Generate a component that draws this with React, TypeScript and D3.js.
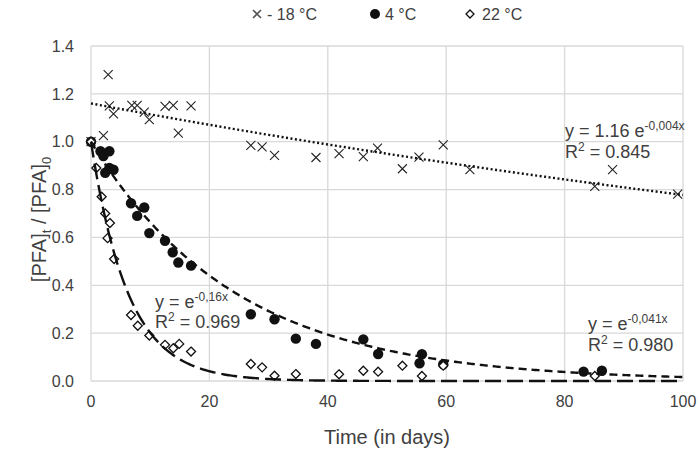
import React from "react";
import * as d3 from "d3";

const xTicks = [0, 20, 40, 60, 80, 100];
const yTicks = [0, 0.2, 0.4, 0.6, 0.8, 1.0, 1.2, 1.4];

const m18X = [0, 2.1, 2.9, 3.1, 3.8, 6.9, 7.8, 9.0, 9.85, 12.5, 13.9, 14.75, 16.9, 27.0, 28.9, 31.0, 38.0, 41.9, 46.0, 48.4, 52.6, 55.4, 59.5, 64.0, 85.1, 88.1, 99.1];
const m18Y = [1.0, 1.025, 1.28, 1.15, 1.116, 1.152, 1.152, 1.124, 1.092, 1.148, 1.152, 1.036, 1.15, 0.985, 0.978, 0.943, 0.934, 0.95, 0.938, 0.973, 0.887, 0.936, 0.987, 0.883, 0.813, 0.883, 0.781];

const p4X = [0, 1.6, 2.1, 3.1, 2.4, 3.1, 3.8, 6.76, 7.8, 9.0, 9.85, 12.5, 13.8, 14.75, 16.9, 27.0, 31.0, 34.6, 38.0, 46.0, 48.5, 55.5, 55.9, 59.5, 83.2, 86.3];
const p4Y = [1.0, 0.96, 0.94, 0.96, 0.87, 0.89, 0.883, 0.743, 0.69, 0.725, 0.618, 0.586, 0.538, 0.495, 0.482, 0.279, 0.258, 0.177, 0.155, 0.174, 0.113, 0.074, 0.112, 0.07, 0.039, 0.043];

const p22X = [0, 0.9, 1.8, 2.4, 3.2, 2.8, 3.9, 6.76, 7.9, 9.85, 12.5, 13.9, 14.9, 16.9, 27.0, 28.9, 31.0, 34.6, 41.9, 46.0, 48.5, 52.6, 55.9, 59.5, 85.1];
const p22Y = [1.0, 0.89, 0.77, 0.7, 0.66, 0.597, 0.51, 0.276, 0.231, 0.19, 0.151, 0.137, 0.155, 0.123, 0.071, 0.057, 0.022, 0.029, 0.028, 0.043, 0.039, 0.064, 0.021, 0.064, 0.021];

// trend-line parameters (from the chart's equations)
const fitM18 = { a: 1.16, k: 0.004 };
const fit4 = { a: 1, k: 0.041 };
const fit22 = { a: 1, k: 0.16 };

const W = 699;
const H = 452;
const left = 91, right = 683, top = 46, bottom = 381;
const TEXT = "#404040";
const FONT = "'Liberation Sans', Arial, sans-serif";

export default function App() {
  const x = d3.scaleLinear().domain([0, 100]).range([left, right]);
  const y = d3.scaleLinear().domain([0, 1.4]).range([bottom, top]);

  const fitPath = (f: { a: number; k: number }) => {
    const pts = d3.range(0, 100.01, 0.25).map((t) => [t, f.a * Math.exp(-f.k * t)] as [number, number]);
    return d3.line<[number, number]>().x((d) => x(d[0])).y((d) => y(d[1]))(pts) || "";
  };

  const cross = (cx: number, cy: number, s = 4.5) =>
    `M${cx - s},${cy - s}L${cx + s},${cy + s}M${cx - s},${cy + s}L${cx + s},${cy - s}`;
  const diamond = (cx: number, cy: number, s = 4.5) =>
    `M${cx},${cy - s}L${cx + s},${cy}L${cx},${cy + s}L${cx - s},${cy}Z`;

  return (
    <svg width={W} height={H} style={{ position: "absolute", left: 0, top: 0, background: "#fff" }} fontFamily={FONT}>
      <rect x={0} y={0} width={W} height={H} fill="#fff" />
      {/* grid */}
      {xTicks.map((t) => (
        <line key={"gx" + t} x1={x(t)} x2={x(t)} y1={top} y2={bottom} stroke="#d9d9d9" strokeWidth={1.3} />
      ))}
      {yTicks.map((t) => (
        <line key={"gy" + t} x1={left} x2={right} y1={y(t)} y2={y(t)} stroke="#d9d9d9" strokeWidth={1.3} />
      ))}
      {/* tick labels */}
      {yTicks.map((t) => (
        <text key={"ly" + t} x={74} y={y(t)} dy="0.36em" textAnchor="end" fontSize={16} fill={TEXT}>
          {t.toFixed(1)}
        </text>
      ))}
      {xTicks.map((t) => (
        <text key={"lx" + t} x={x(t)} y={407} textAnchor="middle" fontSize={16} fill={TEXT}>
          {t}
        </text>
      ))}
      {/* axis titles */}
      <text x={387} y={444} textAnchor="middle" fontSize={20} fill={TEXT}>
        Time (in days)
      </text>
      <text transform={`translate(46,${(top + bottom) / 2 + 6}) rotate(-90)`} textAnchor="middle" fontSize={20} fill={TEXT}>
        [PFA]<tspan fontSize={13} dy={5}>t</tspan>
        <tspan dy={-5}> / [PFA]</tspan>
        <tspan fontSize={13} dy={5}>0</tspan>
      </text>

      {/* markers */}
      {m18X.map((v, i) => (
        <path key={"m18" + i} d={cross(x(v), y(m18Y[i]))} stroke="#222" strokeWidth={1.1} fill="none" />
      ))}
      {p4X.map((v, i) => (
        <circle key={"p4" + i} cx={x(v)} cy={y(p4Y[i])} r={5.2} fill="#111" />
      ))}
      {p22X.map((v, i) => (
        <path key={"p22" + i} d={diamond(x(v), y(p22Y[i]))} stroke="#111" strokeWidth={1.3} fill="#fff" />
      ))}

      {/* trend lines */}
      <path d={fitPath(fitM18)} fill="none" stroke="#111" strokeWidth={2.4} strokeDasharray="2 2.5" />
      <path d={fitPath(fit4)} fill="none" stroke="#111" strokeWidth={2.4} strokeDasharray="8 5" />
      <path d={fitPath(fit22)} fill="none" stroke="#111" strokeWidth={2.4} strokeDasharray="16 6" />

      {/* equations */}
      <g fontSize={18} fill={TEXT}>
        <text x={565} y={137}>
          y = 1.16 e<tspan fontSize={12} dy={-7}>-0,004x</tspan>
        </text>
        <text x={565} y={158}>
          R<tspan fontSize={12} dy={-7}>2</tspan>
          <tspan dy={7}> = 0.845</tspan>
        </text>
        <text x={588} y={330}>
          y = e<tspan fontSize={12} dy={-7}>-0,041x</tspan>
        </text>
        <text x={588} y={351}>
          R<tspan fontSize={12} dy={-7}>2</tspan>
          <tspan dy={7}> = 0.980</tspan>
        </text>
        <text x={155} y={308}>
          y = e<tspan fontSize={12} dy={-7}>-0,16x</tspan>
        </text>
        <text x={155} y={328}>
          R<tspan fontSize={12} dy={-7}>2</tspan>
          <tspan dy={7}> = 0.969</tspan>
        </text>
      </g>

      {/* legend */}
      <g fontSize={16} fill={TEXT}>
        <path d={cross(257, 14, 4)} stroke="#555" strokeWidth={1.6} fill="none" />
        <text x={267} y={20}>- 18 °C</text>
        <circle cx={375} cy={14} r={5} fill="#111" />
        <text x={385} y={20}>4 °C</text>
        <path d={diamond(470, 14, 4)} stroke="#111" strokeWidth={1.3} fill="#fff" />
        <text x={482} y={20}>22 °C</text>
      </g>
    </svg>
  );
}
